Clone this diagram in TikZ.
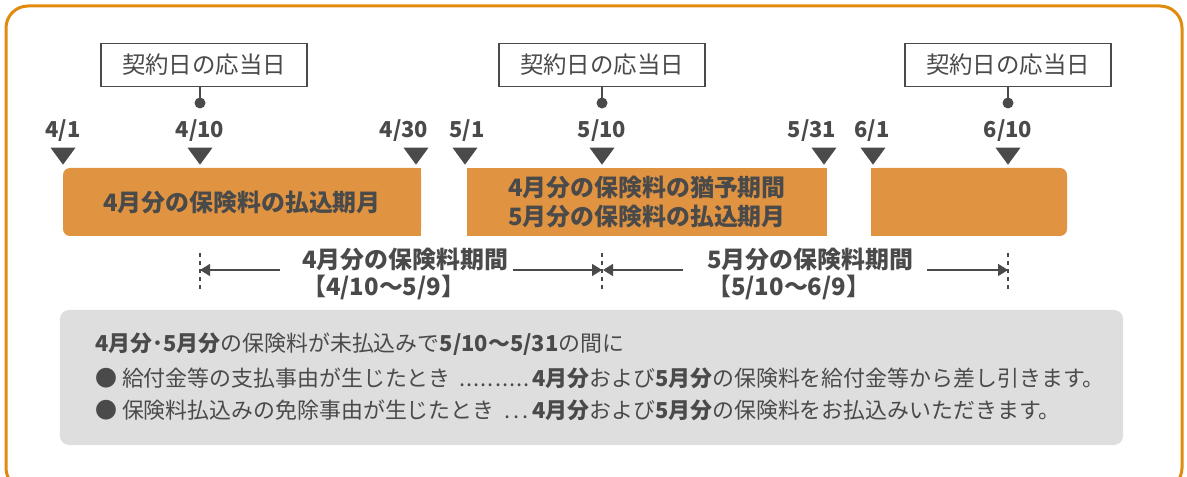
\documentclass[tikz,border=0pt]{standalone}
\usepackage{fontspec}
\setmainfont{Noto Sans CJK JP}
\usetikzlibrary{shapes.geometric,arrows.meta,positioning}
\definecolor{frameorange}{HTML}{E08A0E}
\definecolor{barorange}{HTML}{E09442}
\definecolor{txtgray}{HTML}{4A4A4A}
\definecolor{notegray}{HTML}{DEDEDE}
% first part of a note line, dotted up to a fixed column
\newcommand{\dotcol}[1]{\makebox[437bp][l]{#1\hspace{8bp}\xleaders\hbox to 7.1bp{\hss.\hss}\hfill\hspace{2bp}}}
\tikzset{
  anniv/.style={draw=txtgray, line width=1.2bp, fill=white, text=txtgray,
    minimum width=206bp, minimum height=43bp, inner sep=0pt,
    font=\fontsize{23.5}{26}\selectfont},
  datelbl/.style={text=txtgray, inner sep=0pt, font=\bfseries\fontsize{22}{26}\selectfont},
  datetri/.style={isosceles triangle, isosceles triangle stretches=true,
    shape border rotate=270, fill=txtgray, minimum width=25bp,
    minimum height=17bp, inner sep=0pt},
  bar/.style={fill=barorange, text=txtgray, minimum height=68bp, inner sep=0pt,
    align=center, font=\bfseries\fontsize{24}{29}\selectfont},
  period/.style={text=txtgray, inner sep=0pt, align=left,
    font=\bfseries\fontsize{24}{28}\selectfont},
  periodline/.style={draw=txtgray, line width=1.6bp, -{Triangle[length=10bp,width=12bp]}},
  tick/.style={draw=txtgray, line width=1.2bp, dash pattern=on 4bp off 4bp},
  note/.style={text=txtgray, inner sep=0pt, anchor=west, font=\fontsize{22}{26}\selectfont}
}
\begin{document}
\begin{tikzpicture}[x=1bp,y=-1bp]
  \useasboundingbox (0,0) rectangle (1187,477);
  \clip (0,0) rectangle (1187,477);
  % outer frame
  \draw[frameorange, line width=3bp, rounded corners=22bp] (6,6) rectangle (1182,490);

  % anniversary boxes
  \node[anniv] (ann1) at (204,65) {契約日の応当日};
  \node[anniv] (ann2) at (602,65) {契約日の応当日};
  \node[anniv] (ann3) at (1008,65) {契約日の応当日};
  \foreach \n/\x in {1/200,2/602,3/1008} {
    \fill[txtgray] (\x,103) circle[radius=5.5bp] coordinate (dot\n);
    \draw[txtgray, line width=1.2bp] (ann\n.south -| dot\n) -- (dot\n);
  }

  % dates
  \foreach \d/\xt in {a/63, b/200, c/416, d/465, e/602, f/824, g/873, h/1008} {
    \node[datetri] (tri\d) at (\xt,154) {};
  }
  \node[datelbl] (d41) at (63,131) {4/1};
  \node[datelbl] (d410) at (200,131) {4/10};
  \node[datelbl] (d430) at (404,131) {4/30};
  \node[datelbl] (d51) at (467,131) {5/1};
  \node[datelbl] (d510) at (602,131) {5/10};
  \node[datelbl] (d531) at (812,131) {5/31};
  \node[datelbl] (d61) at (872,131) {6/1};
  \node[datelbl] (d610) at (1008,131) {6/10};

  % payment bars
  \fill[barorange, rounded corners=7bp] (63,168) rectangle (421,236);
  \fill[barorange] (400,168) rectangle (421,236);
  \node[text=txtgray, font=\bfseries\fontsize{24}{29}\selectfont] (bar1) at (242,202) {4月分の保険料の払込期月};
  \node[bar, minimum width=360bp] (bar2) at (647,202) {4月分の保険料の猶予期間\\5月分の保険料の払込期月};
  \fill[barorange, rounded corners=7bp] (871,168) rectangle (1067,236);
  \fill[barorange] (871,168) rectangle (890,236);

  % coverage periods
  \foreach \n/\x in {1/200,2/602,3/1008} {
    \coordinate (top\n) at (\x,253);
    \coordinate (bot\n) at (\x,292);
    \coordinate (t\n) at (\x,270);
    \draw[tick] (top\n) -- (bot\n);
  }
  \node[period, anchor=west] (per1) at (302,274) {4月分の保険料期間\\【4/10～5/9】};
  \node[period, anchor=west] (per2) at (707,274) {5月分の保険料期間\\【5/10～6/9】};
  \draw[periodline] ([xshift=-22bp]per1.west |- t1) -- (t1);
  \draw[periodline] ([xshift=5bp]per1.east |- t2) -- (t2);
  \draw[periodline] ([xshift=-24bp]per2.west |- t2) -- ([xshift=1bp]t2);
  \draw[periodline] ([xshift=14bp]per2.east |- t3) -- (t3);

  % note box
  \node[fill=notegray, rounded corners=9bp, minimum width=1063bp, minimum height=135bp,
        inner sep=0pt] (notebox) at (591.5,377.5) {};
  \node[note] (note1) at (95,344) {\textbf{4月分･5月分}の保険料が未払込みで\textbf{5/10～5/31}の間に};
  \node[note] (note2) at (95,378) {\dotcol{● 給付金等の支払事由が生じたとき}\textbf{4月分}および\textbf{5月分}の保険料を給付金等から差し引きます。};
  \node[note] (note3) at (95,410) {\dotcol{● 保険料払込みの免除事由が生じたとき}\textbf{4月分}および\textbf{5月分}の保険料をお払込みいただきます。};
\end{tikzpicture}
\end{document}
